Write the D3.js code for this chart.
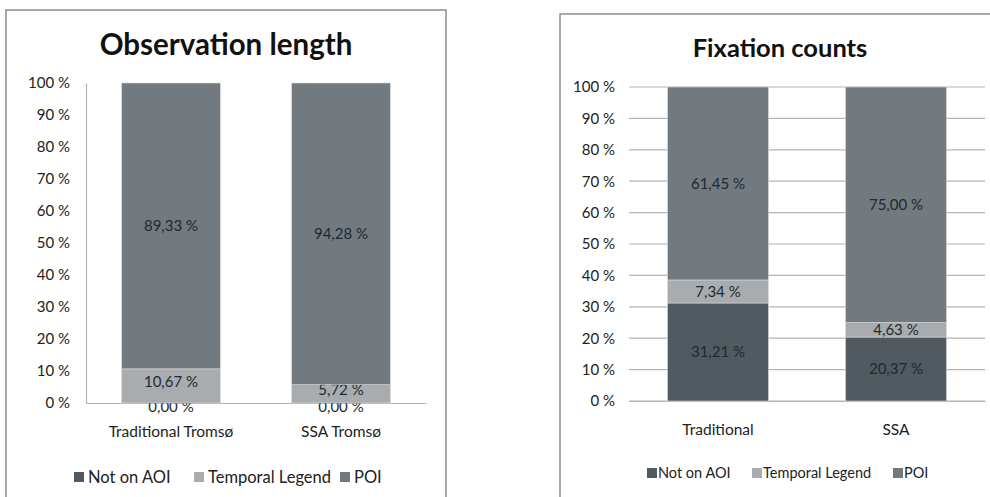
<!DOCTYPE html>
<html>
<head>
<meta charset="utf-8">
<script src="https://cdn.jsdelivr.net/npm/d3@7"></script>
<style>
  body { margin: 0; background: #fff; }
  svg { display: block; font-family: Lato, 'Open Sans', sans-serif; }
</style>
</head>
<body>
<div id="chart"></div>
<script>
// series shared by both charts
const seriesNames = ['Not on AOI', 'Temporal Legend', 'POI'];
const seriesColors = ['#515a60', '#a9acae', '#72797f'];
const tickValues = [0, 10, 20, 30, 40, 50, 60, 70, 80, 90, 100];

// Observation length (%)
const obsCategories = ['Traditional Tromsø', 'SSA Tromsø'];
const obsNotOnAoi = [0.00, 0.00];
const obsTemporal = [10.67, 5.72];
const obsPoi = [89.33, 94.28];

// Fixation counts (%)
const fixCategories = ['Traditional', 'SSA'];
const fixNotOnAoi = [31.21, 20.37];
const fixTemporal = [7.34, 4.63];
const fixPoi = [61.45, 75.00];

const width = 990;
const height = 497;

const svg = d3.select('#chart')
  .append('svg')
  .attr('width', width)
  .attr('height', height);

const fmt = (v) => `${v.toFixed(2).replace('.', ',')} %`;

const drawPanel = (opts) => {
  const g = svg.append('g');

  // frame
  g.append('rect')
    .attr('x', opts.frame[0])
    .attr('y', opts.frame[1])
    .attr('width', opts.frame[2])
    .attr('height', opts.frame[3])
    .attr('fill', 'none')
    .attr('stroke', '#8c8c8c')
    .attr('stroke-width', 1.5);

  // title
  g.append('text')
    .attr('x', opts.titleX)
    .attr('y', opts.titleY)
    .attr('text-anchor', 'middle')
    .attr('font-weight', 'bold')
    .attr('font-size', opts.titleSize)
    .attr('fill', '#111')
    .text(opts.title);

  const rows = opts.categories.map((c, i) => ({
    cat: c,
    'Not on AOI': opts.notOnAoi[i],
    'Temporal Legend': opts.temporal[i],
    POI: opts.poi[i],
  }));
  const stacked = d3.stack().keys(seriesNames)(rows);

  const xScale = d3.scaleBand()
    .range([opts.left, opts.right])
    .domain(opts.categories)
    .paddingInner(opts.padInner)
    .paddingOuter(opts.padInner / 2);
  const yScale = d3.scaleLinear().range([opts.bottom, opts.top]).domain([0, 100]);

  // gridlines (right chart only)
  if (opts.grid) {
    g.append('g')
      .selectAll('line')
      .data(tickValues).enter()
      .append('line')
      .attr('x1', opts.left)
      .attr('x2', opts.right)
      .attr('y1', (d) => yScale(d))
      .attr('y2', (d) => yScale(d))
      .attr('stroke', '#b4b4b4')
      .attr('stroke-width', 1.2);
  }

  // y axis labels
  const yAxis = d3.axisLeft(yScale)
    .tickValues(tickValues)
    .tickSize(0)
    .tickPadding(opts.labelGap)
    .tickFormat((d) => `${d} %`);
  const ya = g.append('g').attr('transform', `translate(${opts.left}, 0)`).call(yAxis);
  ya.select('.domain').attr('stroke', opts.grid ? 'none' : '#b4b4b4').attr('stroke-width', 1.2);
  ya.selectAll('text')
    .attr('font-family', 'Lato, sans-serif')
    .attr('font-size', 15)
    .attr('fill', '#222');

  // x axis
  const xAxis = d3.axisBottom(xScale).tickSize(0).tickPadding(opts.catGap);
  const xa = g.append('g').attr('transform', `translate(0, ${opts.bottom})`).call(xAxis);
  xa.select('.domain').attr('stroke', '#b4b4b4').attr('stroke-width', 1.2);
  xa.selectAll('text')
    .attr('font-family', 'Lato, sans-serif')
    .attr('font-size', 15.5)
    .attr('fill', '#222');

  // bars
  const layers = g.append('g')
    .selectAll('g')
    .data(stacked).enter()
    .append('g')
    .attr('fill', (d, i) => seriesColors[i]);

  layers.selectAll('rect')
    .data((d) => d).enter()
    .append('rect')
    .attr('x', (d) => xScale(d.data.cat))
    .attr('y', (d) => yScale(d[1]))
    .attr('width', xScale.bandwidth())
    .attr('height', (d) => yScale(d[0]) - yScale(d[1]))
    .attr('stroke', '#d8dadb')
    .attr('stroke-width', 0.6);

  // data labels (zero segments sit just under the baseline)
  layers.selectAll('text')
    .data((d) => d).enter()
    .append('text')
    .attr('x', (d) => xScale(d.data.cat) + xScale.bandwidth() / 2)
    .attr('y', (d) => (d[1] - d[0] === 0
      ? yScale(d[0]) + 4
      : (yScale(d[0]) + yScale(d[1])) / 2 - (d[0] === 0 && d[1] < 15 ? opts.lowShift : 0)))
    .attr('dy', '0.35em')
    .attr('text-anchor', 'middle')
    .attr('font-size', 15)
    .attr('fill', '#1d2a31')
    .text((d) => fmt(d[1] - d[0]));

  // legend
  const leg = g.append('g')
    .selectAll('g')
    .data(seriesNames).enter()
    .append('g')
    .attr('transform', (d, i) => `translate(${opts.legendX[i]}, ${opts.legendY})`);
  leg.append('rect')
    .attr('x', 0)
    .attr('y', -5)
    .attr('width', 10)
    .attr('height', 10)
    .attr('fill', (d, i) => seriesColors[i]);
  leg.append('text')
    .attr('x', opts.legendGap)
    .attr('dy', '0.35em')
    .attr('font-size', opts.legendSize)
    .attr('fill', '#222')
    .text((d) => d);
};

drawPanel({
  frame: [6, 10, 440, 500],
  title: 'Observation length',
  titleX: 226,
  titleY: 55,
  titleSize: 29.5,
  categories: obsCategories,
  notOnAoi: obsNotOnAoi,
  temporal: obsTemporal,
  poi: obsPoi,
  left: 86,
  right: 426,
  top: 83,
  bottom: 403,
  padInner: 0.42,
  grid: false,
  labelGap: 16,
  catGap: 23,
  lowShift: 4,
  legendX: [74, 194, 340],
  legendY: 477,
  legendGap: 14,
  legendSize: 16.5,
});

drawPanel({
  frame: [560, 14, 440, 500],
  title: 'Fixation counts',
  titleX: 780,
  titleY: 57,
  titleSize: 25.5,
  categories: fixCategories,
  notOnAoi: fixNotOnAoi,
  temporal: fixTemporal,
  poi: fixPoi,
  left: 629,
  right: 985,
  top: 87,
  bottom: 401,
  padInner: 0.433,
  grid: true,
  labelGap: 14,
  catGap: 23,
  lowShift: 0,
  legendX: [647, 752, 893],
  legendY: 473,
  legendGap: 11,
  legendSize: 14.5,
});
</script>
</body>
</html>
